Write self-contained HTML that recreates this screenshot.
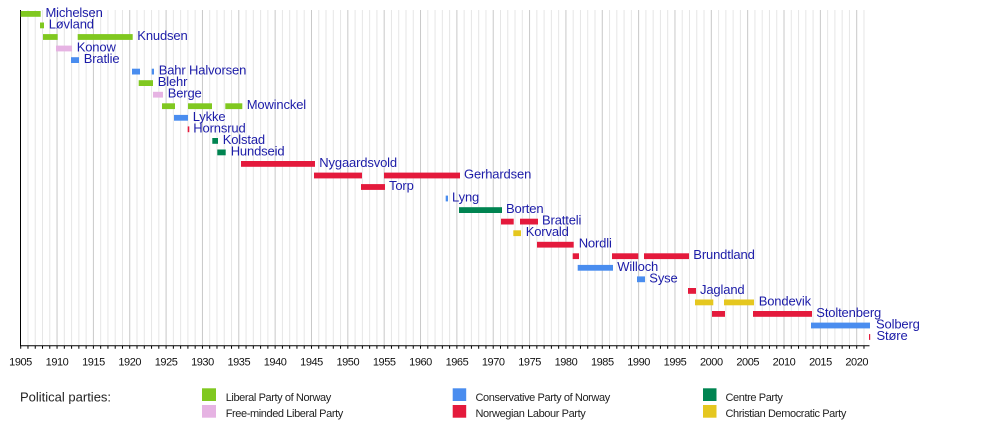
<!DOCTYPE html>
<html><head><meta charset="utf-8"><style>
html,body{margin:0;padding:0;background:#fff;}
svg{display:block;}
.n{font-family:"Liberation Sans",Arial,sans-serif;font-size:13px;fill:#1c1ca8;letter-spacing:-0.15px;}
.y{font-family:"Liberation Sans",Arial,sans-serif;font-size:11px;fill:#111;letter-spacing:-0.45px;}
.l{font-family:"Liberation Sans",Arial,sans-serif;font-size:11px;fill:#222;letter-spacing:-0.4px;}
.lt{font-family:"Liberation Sans",Arial,sans-serif;font-size:13px;fill:#222;}
</style></head><body>
<svg width="1000" height="426" viewBox="0 0 1000 426" xmlns="http://www.w3.org/2000/svg">
<rect width="1000" height="426" fill="#fff"/>
<!-- minor gridlines -->
<path fill="none" stroke="#e6e6e6" stroke-width="1" d="M27.97 10V345.7M35.24 10V345.7M42.51 10V345.7M49.78 10V345.7M64.32 10V345.7M71.59 10V345.7M78.86 10V345.7M86.13 10V345.7M100.67 10V345.7M107.94 10V345.7M115.2 10V345.7M122.47 10V345.7M137.01 10V345.7M144.28 10V345.7M151.55 10V345.7M158.82 10V345.7M173.36 10V345.7M180.63 10V345.7M187.9 10V345.7M195.17 10V345.7M209.71 10V345.7M216.98 10V345.7M224.25 10V345.7M231.52 10V345.7M246.06 10V345.7M253.33 10V345.7M260.6 10V345.7M267.87 10V345.7M282.41 10V345.7M289.68 10V345.7M296.94 10V345.7M304.21 10V345.7M318.75 10V345.7M326.02 10V345.7M333.29 10V345.7M340.56 10V345.7M355.1 10V345.7M362.37 10V345.7M369.64 10V345.7M376.91 10V345.7M391.45 10V345.7M398.72 10V345.7M405.99 10V345.7M413.26 10V345.7M427.8 10V345.7M435.07 10V345.7M442.34 10V345.7M449.61 10V345.7M464.15 10V345.7M471.42 10V345.7M478.68 10V345.7M485.95 10V345.7M500.49 10V345.7M507.76 10V345.7M515.03 10V345.7M522.3 10V345.7M536.84 10V345.7M544.11 10V345.7M551.38 10V345.7M558.65 10V345.7M573.19 10V345.7M580.46 10V345.7M587.73 10V345.7M595 10V345.7M609.54 10V345.7M616.81 10V345.7M624.08 10V345.7M631.35 10V345.7M645.89 10V345.7M653.16 10V345.7M660.42 10V345.7M667.69 10V345.7M682.23 10V345.7M689.5 10V345.7M696.77 10V345.7M704.04 10V345.7M718.58 10V345.7M725.85 10V345.7M733.12 10V345.7M740.39 10V345.7M754.93 10V345.7M762.2 10V345.7M769.47 10V345.7M776.74 10V345.7M791.28 10V345.7M798.55 10V345.7M805.82 10V345.7M813.09 10V345.7M827.63 10V345.7M834.9 10V345.7M842.16 10V345.7M849.43 10V345.7M863.97 10V345.7"/>
<!-- major gridlines -->
<path fill="none" stroke="#c8c8c8" stroke-width="1" d="M57.05 10V345.7M93.4 10V345.7M129.74 10V345.7M166.09 10V345.7M202.44 10V345.7M238.79 10V345.7M275.14 10V345.7M311.48 10V345.7M347.83 10V345.7M384.18 10V345.7M420.53 10V345.7M456.88 10V345.7M493.22 10V345.7M529.57 10V345.7M565.92 10V345.7M602.27 10V345.7M638.62 10V345.7M674.96 10V345.7M711.31 10V345.7M747.66 10V345.7M784.01 10V345.7M820.36 10V345.7M856.7 10V345.7"/>
<!-- axes -->
<path fill="none" stroke="#000" stroke-width="1" d="M20.5 10V346M20 345.7H869.5"/>
<!-- ticks -->
<path fill="none" stroke="#000" stroke-width="1" d="M20.7 345.7v3M27.97 345.7v3M35.24 345.7v3M42.51 345.7v3M49.78 345.7v3M57.05 345.7v3M64.32 345.7v3M71.59 345.7v3M78.86 345.7v3M86.13 345.7v3M93.4 345.7v3M100.67 345.7v3M107.94 345.7v3M115.2 345.7v3M122.47 345.7v3M129.74 345.7v3M137.01 345.7v3M144.28 345.7v3M151.55 345.7v3M158.82 345.7v3M166.09 345.7v3M173.36 345.7v3M180.63 345.7v3M187.9 345.7v3M195.17 345.7v3M202.44 345.7v3M209.71 345.7v3M216.98 345.7v3M224.25 345.7v3M231.52 345.7v3M238.79 345.7v3M246.06 345.7v3M253.33 345.7v3M260.6 345.7v3M267.87 345.7v3M275.14 345.7v3M282.41 345.7v3M289.68 345.7v3M296.94 345.7v3M304.21 345.7v3M311.48 345.7v3M318.75 345.7v3M326.02 345.7v3M333.29 345.7v3M340.56 345.7v3M347.83 345.7v3M355.1 345.7v3M362.37 345.7v3M369.64 345.7v3M376.91 345.7v3M384.18 345.7v3M391.45 345.7v3M398.72 345.7v3M405.99 345.7v3M413.26 345.7v3M420.53 345.7v3M427.8 345.7v3M435.07 345.7v3M442.34 345.7v3M449.61 345.7v3M456.88 345.7v3M464.15 345.7v3M471.42 345.7v3M478.68 345.7v3M485.95 345.7v3M493.22 345.7v3M500.49 345.7v3M507.76 345.7v3M515.03 345.7v3M522.3 345.7v3M529.57 345.7v3M536.84 345.7v3M544.11 345.7v3M551.38 345.7v3M558.65 345.7v3M565.92 345.7v3M573.19 345.7v3M580.46 345.7v3M587.73 345.7v3M595 345.7v3M602.27 345.7v3M609.54 345.7v3M616.81 345.7v3M624.08 345.7v3M631.35 345.7v3M638.62 345.7v3M645.89 345.7v3M653.16 345.7v3M660.42 345.7v3M667.69 345.7v3M674.96 345.7v3M682.23 345.7v3M689.5 345.7v3M696.77 345.7v3M704.04 345.7v3M711.31 345.7v3M718.58 345.7v3M725.85 345.7v3M733.12 345.7v3M740.39 345.7v3M747.66 345.7v3M754.93 345.7v3M762.2 345.7v3M769.47 345.7v3M776.74 345.7v3M784.01 345.7v3M791.28 345.7v3M798.55 345.7v3M805.82 345.7v3M813.09 345.7v3M820.36 345.7v3M827.63 345.7v3M834.9 345.7v3M842.16 345.7v3M849.43 345.7v3M856.7 345.7v3M863.97 345.7v3"/>
<!-- year labels -->
<g class="y" text-anchor="middle">
<text x="20.5" y="365.5">1905</text><text x="57" y="365.5">1910</text><text x="93.4" y="365.5">1915</text><text x="129.7" y="365.5">1920</text><text x="166.1" y="365.5">1925</text><text x="202.4" y="365.5">1930</text><text x="238.8" y="365.5">1935</text><text x="275.1" y="365.5">1940</text><text x="311.5" y="365.5">1945</text><text x="347.8" y="365.5">1950</text><text x="384.2" y="365.5">1955</text><text x="420.5" y="365.5">1960</text><text x="456.9" y="365.5">1965</text><text x="493.2" y="365.5">1970</text><text x="529.6" y="365.5">1975</text><text x="565.9" y="365.5">1980</text><text x="602.3" y="365.5">1985</text><text x="638.6" y="365.5">1990</text><text x="675" y="365.5">1995</text><text x="711.3" y="365.5">2000</text><text x="747.7" y="365.5">2005</text><text x="784" y="365.5">2010</text><text x="820.4" y="365.5">2015</text><text x="856.7" y="365.5">2020</text>
</g>
<!-- bars -->
<g>
<!-- 0 Michelsen --><rect x="20.7" y="11" width="20" height="5.8" fill="#80c820"/>
<!-- 1 Løvland --><rect x="40" y="22.5" width="4" height="5.8" fill="#80c820"/>
<!-- 2 Knudsen --><rect x="43" y="34.1" width="14.7" height="5.8" fill="#80c820"/><rect x="77.7" y="34.1" width="55" height="5.8" fill="#80c820"/>
<!-- 3 Konow --><rect x="56" y="45.6" width="16" height="5.8" fill="#e6b3e3"/>
<!-- 4 Bratlie --><rect x="71" y="57.2" width="8" height="5.8" fill="#4a8def"/>
<!-- 5 Bahr Halvorsen --><rect x="132" y="68.7" width="8" height="5.8" fill="#4a8def"/><rect x="151.7" y="68.7" width="2.3" height="5.8" fill="#4a8def"/>
<!-- 6 Blehr --><rect x="138.7" y="80.2" width="14.3" height="5.8" fill="#80c820"/>
<!-- 7 Berge --><rect x="153" y="91.8" width="10" height="5.8" fill="#e6b3e3"/>
<!-- 8 Mowinckel --><rect x="162" y="103.3" width="13" height="5.8" fill="#80c820"/><rect x="188" y="103.3" width="24" height="5.8" fill="#80c820"/><rect x="225.3" y="103.3" width="17" height="5.8" fill="#80c820"/>
<!-- 9 Lykke --><rect x="174" y="114.9" width="14" height="5.8" fill="#4a8def"/>
<!-- 10 Hornsrud --><rect x="187.7" y="126.4" width="1.6" height="5.8" fill="#e41a3c"/>
<!-- 11 Kolstad --><rect x="212.3" y="138" width="5.7" height="5.8" fill="#008451"/>
<!-- 12 Hundseid --><rect x="217.3" y="149.5" width="8.4" height="5.8" fill="#008451"/>
<!-- 13 Nygaardsvold --><rect x="241" y="161" width="74" height="5.8" fill="#e41a3c"/>
<!-- 14 Gerhardsen --><rect x="314" y="172.6" width="48" height="5.8" fill="#e41a3c"/><rect x="384" y="172.6" width="76" height="5.8" fill="#e41a3c"/>
<!-- 15 Torp --><rect x="361" y="184.1" width="24" height="5.8" fill="#e41a3c"/>
<!-- 16 Lyng --><rect x="445.7" y="195.6" width="2.3" height="5.8" fill="#4a8def"/>
<!-- 17 Borten --><rect x="459" y="207.2" width="43" height="5.8" fill="#008451"/>
<!-- 18 Bratteli --><rect x="501" y="218.7" width="12.7" height="5.8" fill="#e41a3c"/><rect x="520" y="218.7" width="18" height="5.8" fill="#e41a3c"/>
<!-- 19 Korvald --><rect x="513.3" y="230.3" width="7.7" height="5.8" fill="#e5c71f"/>
<!-- 20 Nordli --><rect x="537" y="241.8" width="36.7" height="5.8" fill="#e41a3c"/>
<!-- 21 Brundtland --><rect x="572.7" y="253.3" width="6.3" height="5.8" fill="#e41a3c"/><rect x="612" y="253.3" width="26.3" height="5.8" fill="#e41a3c"/><rect x="644" y="253.3" width="45" height="5.8" fill="#e41a3c"/>
<!-- 22 Willoch --><rect x="577.7" y="264.9" width="35.3" height="5.8" fill="#4a8def"/>
<!-- 23 Syse --><rect x="637" y="276.4" width="8" height="5.8" fill="#4a8def"/>
<!-- 24 Jagland --><rect x="688" y="288" width="8" height="5.8" fill="#e41a3c"/>
<!-- 25 Bondevik --><rect x="695" y="299.5" width="18.3" height="5.8" fill="#e5c71f"/><rect x="724" y="299.5" width="30" height="5.8" fill="#e5c71f"/>
<!-- 26 Stoltenberg --><rect x="712" y="311" width="13" height="5.8" fill="#e41a3c"/><rect x="753" y="311" width="59" height="5.8" fill="#e41a3c"/>
<!-- 27 Solberg --><rect x="811" y="322.6" width="59" height="5.8" fill="#4a8def"/>
<!-- 28 Støre --><rect x="869" y="334.1" width="1.2" height="5.8" fill="#e41a3c"/>
</g>
<!-- name labels -->
<g class="n">
<text x="45.5" y="16.9">Michelsen</text>
<text x="48.7" y="28.4">Løvland</text>
<text x="137.3" y="40">Knudsen</text>
<text x="76.7" y="51.5">Konow</text>
<text x="83.7" y="63.1">Bratlie</text>
<text x="158.7" y="74.6">Bahr Halvorsen</text>
<text x="157.7" y="86.1">Blehr</text>
<text x="167.7" y="97.7">Berge</text>
<text x="246.7" y="109.2">Mowinckel</text>
<text x="192.7" y="120.8">Lykke</text>
<text x="193.3" y="132.3">Hornsrud</text>
<text x="222.7" y="143.9">Kolstad</text>
<text x="230.7" y="155.4">Hundseid</text>
<text x="319.3" y="166.9">Nygaardsvold</text>
<text x="464" y="178.5">Gerhardsen</text>
<text x="389" y="190">Torp</text>
<text x="452" y="201.5">Lyng</text>
<text x="506" y="213.1">Borten</text>
<text x="542" y="224.6">Bratteli</text>
<text x="525.7" y="236.2">Korvald</text>
<text x="578.7" y="247.7">Nordli</text>
<text x="693.3" y="259.2">Brundtland</text>
<text x="617.3" y="270.8">Willoch</text>
<text x="649.3" y="282.3">Syse</text>
<text x="700" y="293.9">Jagland</text>
<text x="758.7" y="305.4">Bondevik</text>
<text x="816.3" y="316.9">Stoltenberg</text>
<text x="876" y="328.5">Solberg</text>
<text x="876.5" y="340">Støre</text>
</g>
<!-- legend -->
<text class="lt" x="20" y="401.5">Political parties:</text>
<rect x="202" y="388.3" width="14" height="12.7" fill="#80c820"/>
<rect x="202" y="405" width="14" height="12.7" fill="#e6b3e3"/>
<rect x="452.7" y="388.3" width="13.5" height="12.7" fill="#4a8def"/>
<rect x="452.7" y="405" width="13.5" height="12.7" fill="#e41a3c"/>
<rect x="703" y="388.3" width="13.5" height="12.7" fill="#008451"/>
<rect x="703" y="405" width="13.5" height="12.7" fill="#e5c71f"/>
<g class="l">
<text x="225.7" y="400.8">Liberal Party of Norway</text>
<text x="225.7" y="416.8">Free-minded Liberal Party</text>
<text x="475.5" y="400.8">Conservative Party of Norway</text>
<text x="475.5" y="416.8">Norwegian Labour Party</text>
<text x="725.5" y="400.8">Centre Party</text>
<text x="725.5" y="416.8">Christian Democratic Party</text>
</g>
</svg>
</body></html>
